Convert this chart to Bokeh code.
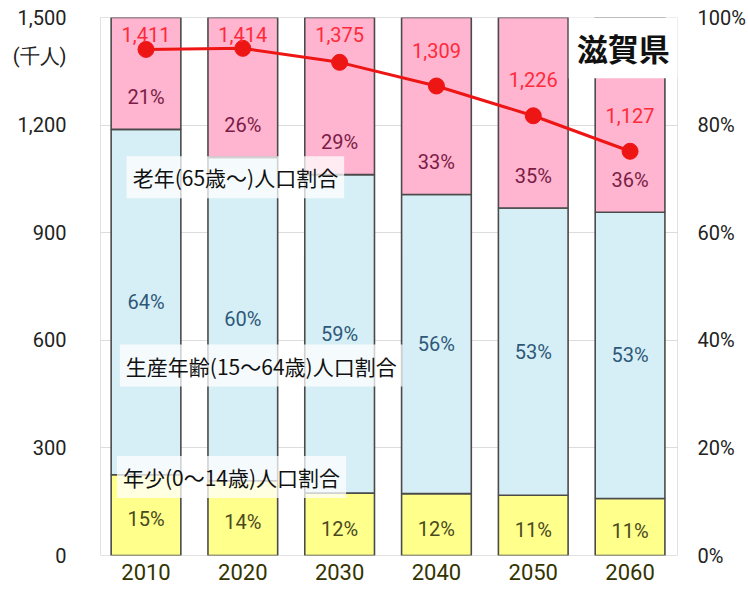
from bokeh.plotting import figure
from bokeh.models import Range1d, LinearAxis, FixedTicker, Label, NumeralTickFormatter, PrintfTickFormatter, ColumnDataSource
from bokeh.embed import file_html
from bokeh.resources import INLINE
from bokeh.core.properties import value

years = ["2010", "2020", "2030", "2040", "2050", "2060"]
population = [1411, 1414, 1375, 1309, 1226, 1127]          # 千人
young = [15.0, 13.9, 11.6, 11.5, 11.2, 10.6]               # 年少 %
working = [64.2, 60.1, 59.2, 55.6, 53.4, 53.2]             # 生産年齢 %
elderly = [20.8, 26.0, 29.2, 32.9, 35.4, 36.2]             # 老年 %
left_ticks = [0, 300, 600, 900, 1200, 1500]
right_ticks = [0, 20, 40, 60, 80, 100]
unit_label = "(千人)"

NUM_FONT = "Roboto"
CJK_FONT = "Noto Sans CJK JP"
UNIT_POS = 1394  # vertical position of the unit caption on the left axis

x = list(range(len(years)))
w_top = [a + b for a, b in zip(young, working)]
e_top = [a + b for a, b in zip(w_top, elderly)]

src = ColumnDataSource(dict(
    x=x, young=young, w_bottom=young, w_top=w_top, e_top=e_top, pop=population,
    ylab=[f"{int(v + 0.5)}%" for v in young],
    wlab=[f"{int(v + 0.5)}%" for v in working],
    elab=[f"{int(v + 0.5)}%" for v in elderly],
    plab=[f"{v:,}" for v in population],
    ylab_y=[v / 2 - 0.8 for v in young],
    wlab_y=[b + w / 2 for b, w in zip(young, working)],
    elab_y=[t + 6 for t in w_top],
    plab_y=[min(v + 100, 1452) for v in population],
))

p = figure(width=748, height=589, x_range=Range1d(-0.47, 5.49), y_range=Range1d(0, 1500),
           output_backend="svg", toolbar_location=None,
           min_border_left=100, min_border_right=65, min_border_top=17, min_border_bottom=34,
           background_fill_color="white", border_fill_color="white")
p.extra_y_ranges = {"pct": Range1d(0, 100)}

p.xgrid.grid_line_color = None
p.ygrid.ticker = FixedTicker(ticks=left_ticks)
p.ygrid.grid_line_color = "#dcdcdc"
p.outline_line_color = "#e2e2e2"

bar_w = 0.72
line_c = "#4a4a4a"
p.vbar(x="x", bottom=0, top="young", width=bar_w, source=src, y_range_name="pct",
       fill_color="#FFFF8C", line_color=line_c, line_width=1.6)
p.vbar(x="x", bottom="w_bottom", top="w_top", width=bar_w, source=src, y_range_name="pct",
       fill_color="#D6EFF6", line_color=line_c, line_width=1.6)
p.vbar(x="x", bottom="w_top", top="e_top", width=bar_w, source=src, y_range_name="pct",
       fill_color="#FFB4D0", line_color=line_c, line_width=1.6)

p.line(x="x", y="pop", source=src, line_color="#EE1515", line_width=3)
p.scatter(x="x", y="pop", source=src, size=16, fill_color="#EE1515", line_color="#EE1515")

common = dict(text_align="center", text_baseline="middle", text_font_size="20px",
              text_font=value(NUM_FONT))
p.text(x="x", y="ylab_y", text="ylab", source=src, y_range_name="pct", text_color="#4a4a1e", **common)
p.text(x="x", y="wlab_y", text="wlab", source=src, y_range_name="pct", text_color="#2e5878", **common)
p.text(x="x", y="elab_y", text="elab", source=src, y_range_name="pct", text_color="#7a1c45", **common)
p.text(x="x", y="plab_y", text="plab", source=src, text_color="#FF2A3A", **common)

# axes
p.xaxis.ticker = FixedTicker(ticks=x)
p.xaxis.major_label_overrides = {i: y for i, y in zip(x, years)}
p.xaxis.axis_line_color = None
p.xaxis.major_tick_in = 0
p.xaxis.major_tick_out = 0
p.xaxis.minor_tick_line_color = None
p.xaxis.major_label_standoff = 8
p.xaxis.major_label_text_font = NUM_FONT
p.xaxis.major_label_text_font_size = "22px"
p.xaxis.major_label_text_color = "#333300"

p.yaxis.ticker = FixedTicker(ticks=left_ticks + [UNIT_POS])
p.yaxis.formatter = NumeralTickFormatter(format="0,0")
p.yaxis.major_label_overrides = {UNIT_POS: unit_label}
p.yaxis.axis_line_color = None
p.yaxis.major_tick_in = 0
p.yaxis.major_tick_out = 0
p.yaxis.minor_tick_line_color = None
p.yaxis.major_label_standoff = 34
p.yaxis.major_label_text_font = NUM_FONT
p.yaxis.major_label_text_font_size = "20px"
p.yaxis.major_label_text_color = "#222222"

ra = LinearAxis(y_range_name="pct", ticker=FixedTicker(ticks=right_ticks),
                formatter=PrintfTickFormatter(format="%d%%"))
ra.axis_line_color = None
ra.major_tick_in = 0
ra.major_tick_out = 0
ra.minor_tick_line_color = None
ra.major_label_standoff = 20
ra.major_label_text_font = NUM_FONT
ra.major_label_text_font_size = "20px"
ra.major_label_text_color = "#222222"
p.add_layout(ra, "right")

# annotations
series_labels = [
    ("老年(65歳〜)人口割合", -0.20, 70.3),
    ("生産年齢(15〜64歳)人口割合", -0.27, 35.3),
    ("年少(0〜14歳)人口割合", -0.30, 14.6),
]
for txt, lx, ly in series_labels:
    p.add_layout(Label(x=lx, y=ly, y_range_name="pct", text=txt, text_font=CJK_FONT,
                       text_font_size="21px", text_align="left", text_baseline="middle",
                       text_color="#111111", background_fill_color="white",
                       background_fill_alpha=0.75, padding=6))

p.add_layout(Label(x=4.93, y=94.4, y_range_name="pct", text="滋賀県", text_font=CJK_FONT,
                   text_font_size="31px", text_font_style="bold", text_align="center",
                   text_baseline="middle", text_color="#111111", background_fill_color="white",
                   background_fill_alpha=1.0, padding=8))

open("out.html", "w").write(file_html(p, INLINE))
